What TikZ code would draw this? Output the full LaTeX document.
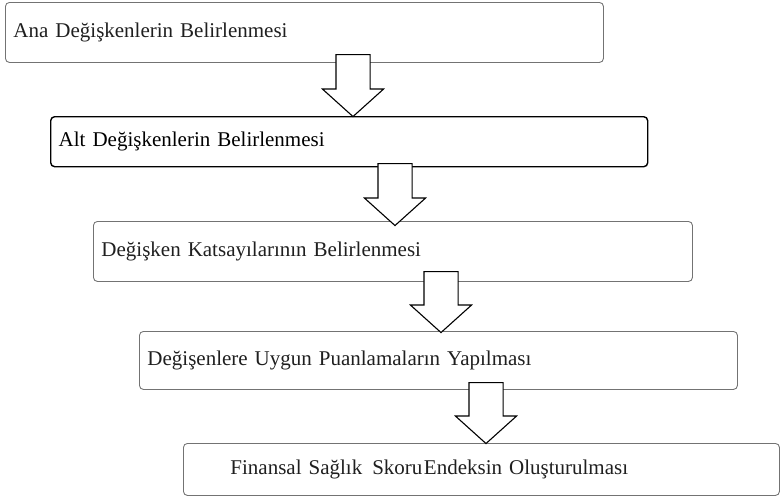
\documentclass[tikz,border=0pt]{standalone}
\usepackage{fontspec}
\setmainfont{Liberation Serif}
\usetikzlibrary{shapes.arrows}
\begin{document}
\begin{tikzpicture}[x=1pt,y=-1pt,
  box/.style={draw=black!55, line width=0.9pt, rounded corners=4pt, anchor=north west,
    inner xsep=8pt, inner ysep=0pt, align=left, text=black!88,
    font=\fontsize{21}{25}\selectfont},
  boxdark/.style={box, draw=black, line width=1.4pt, text=black},
  blockarrow/.style={single arrow, draw=black, fill=white, line width=1.1pt,
    rotate=-90, anchor=tail, inner xsep=0pt, inner ysep=16.5pt,
    single arrow head extend=13.5pt, single arrow tip angle=96,
    minimum height=62pt, shape border uses incircle=false}
]
\useasboundingbox (0,0) rectangle (780,498);
\node[box, text width=582pt, minimum height=60pt] (b1) at (5,2) {Ana Değişkenlerin Belirlenmesi};
\node[boxdark, text width=581pt, minimum height=50pt] (b2) at (50,116) {Alt Değişkenlerin Belirlenmesi};
\node[box, text width=583pt, minimum height=60pt] (b3) at (93,221) {Değişken Katsayılarının Belirlenmesi};
\node[box, text width=582pt, minimum height=58pt] (b4) at (139,331) {Değişenlere Uygun Puanlamaların Yapılması};
\node[box, text width=580pt, minimum height=52pt] (b5) at (183,443) {\hspace*{39pt}Finansal Sağlık\hspace{10pt}Skoru\hspace{1.5pt}Endeksin Oluşturulması};
\node[blockarrow] (a1) at (353,54) {};
\node[blockarrow] (a2) at (395,163) {};
\node[blockarrow, minimum height=61pt] (a3) at (441,271) {};
\node[blockarrow, minimum height=61pt] (a4) at (486,382) {};
\end{tikzpicture}
\end{document}
